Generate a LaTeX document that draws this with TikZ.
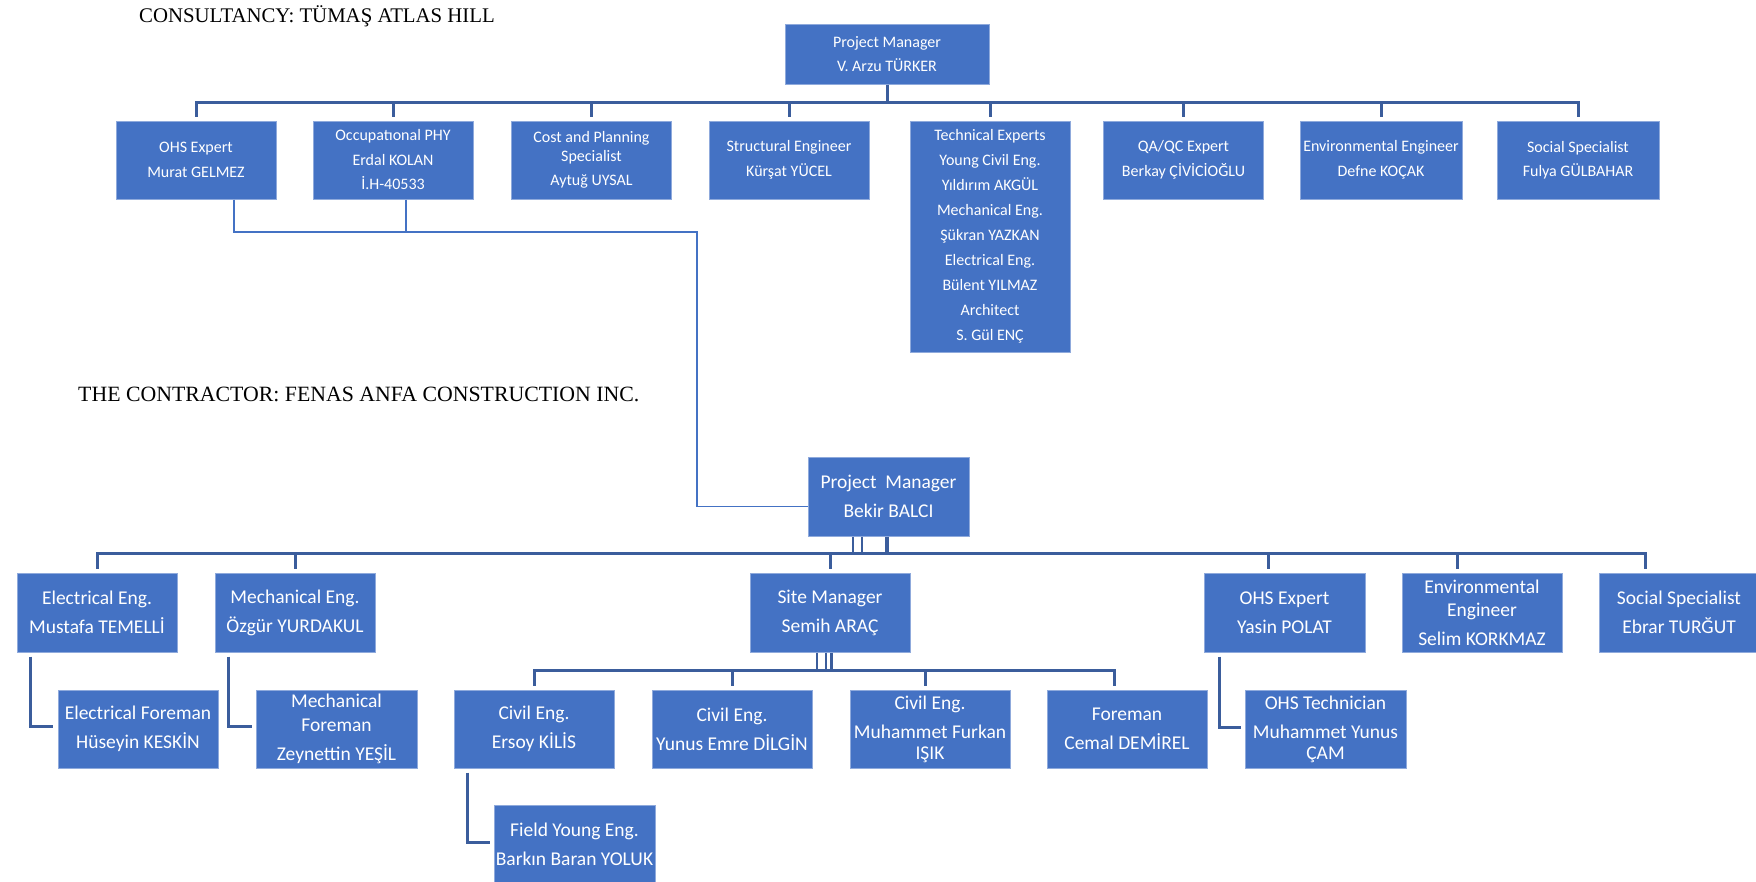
\documentclass[tikz,border=0pt]{standalone}
\usepackage{fontspec}
\setmainfont{Liberation Serif}
\newfontfamily\calfont{Carlito}
\definecolor{boxfill}{HTML}{4472C4}
\definecolor{boxedge}{HTML}{8FAADC}
\definecolor{buscol}{HTML}{3B5D9C}
\definecolor{thincol}{HTML}{4472C4}
\tikzset{
 box/.style={draw=boxedge, fill=boxfill, text=white, inner sep=0pt, align=center, line width=1pt},
 rowone/.style={box, minimum width=160pt, minimum height=78pt, font=\calfont\fontsize{16}{24.5}\selectfont},
 rowtwo/.style={box, minimum width=161pt, minimum height=79pt, font=\calfont\fontsize{19.5}{29}\selectfont},
 bus/.style={draw=buscol, line width=3pt},
 thinbus/.style={draw=buscol, line width=2pt},
 fatbus/.style={draw=buscol, line width=4pt},
 thinline/.style={draw=thincol, line width=1.6pt},
 title/.style={anchor=west, inner sep=0pt, text=black},
}
\begin{document}
\begin{tikzpicture}[x=1pt,y=-1pt]
\fill[white] (0,0) rectangle (1756,881);
\useasboundingbox (0,0) rectangle (1756,881);

% titles
\node[title, font=\fontsize{20.8}{24}\selectfont] (t1) at (139,16) {CONSULTANCY: TÜMAŞ ATLAS HILL};
\node[title, font=\fontsize{21.8}{24}\selectfont] (t2) at (78,394) {THE CONTRACTOR: FENAS ANFA CONSTRUCTION INC.};

% consultancy
\node[rowone, minimum width=204pt, minimum height=60pt] (pmA) at (887,54) {Project Manager\\V. Arzu TÜRKER};
\node[rowone] (c1) at (196,160) {OHS Expert\\Murat GELMEZ};
\node[rowone] (c2) at (393,160) {Occupatıonal PHY\\Erdal KOLAN\\İ.H-40533};
\node[rowone] (c3) at (591.5,160) {Cost and Planning\\[-5.5pt]Specialist\\Aytuğ UYSAL};
\node[rowone] (c4) at (789,160) {Structural Engineer\\Kürşat YÜCEL};
\node[rowone, minimum height=231pt, font=\calfont\fontsize{16}{25}\selectfont] (c5) at (990,236.5) {Technical Experts\\Young Civil Eng.\\Yıldırım AKGÜL\\Mechanical Eng.\\Şükran YAZKAN\\Electrical Eng.\\Bülent YILMAZ\\Architect\\S. Gül ENÇ};
\node[rowone] (c6) at (1183.5,160) {QA/QC Expert\\Berkay ÇİVİCİOĞLU};
\node[rowone, minimum width=162pt] (c7) at (1381,160) {Environmental Engineer\\Defne KOÇAK};
\node[rowone, minimum width=162pt] (c8) at (1578,160) {Social Specialist\\Fulya GÜLBAHAR};

\coordinate (busA) at (0,102);
\draw[bus] (pmA.south) -- (pmA.south |- busA);
\draw[bus] ([yshift=4pt]c1.north) -- (c1.north |- busA) -- (c8.north |- busA) -- ([yshift=4pt]c8.north);
\foreach \n in {c2,c3,c4,c5,c6,c7}{
  \draw[bus] (\n.north |- busA) -- ([yshift=4pt]\n.north);
}

% contractor
\node[rowtwo] (pmB) at (888.5,496.5) {Project\ \ Manager\\Bekir BALCI};
\node[rowtwo, minimum width=160pt] (ee) at (97,612.5) {Electrical Eng.\\Mustafa TEMELLİ};
\node[rowtwo, minimum width=160pt] (me) at (295,612.5) {Mechanical Eng.\\Özgür YURDAKUL};
\node[rowtwo, minimum width=160pt] (sm) at (830,612.5) {Site Manager\\Semih ARAÇ};
\node[rowtwo] (ohs) at (1284.5,612.5) {OHS Expert\\Yasin POLAT};
\node[rowtwo, minimum width=160pt] (env) at (1482,612.5) {Environmental\\[-6pt]Engineer\\Selim KORKMAZ};
\node[rowtwo, minimum width=160pt] (soc) at (1679,612.5) {Social Specialist\\Ebrar TURĞUT};

\node[rowtwo, minimum width=160pt, minimum height=78pt] (ef) at (138,729) {Electrical Foreman\\Hüseyin KESKİN};
\node[rowtwo, minimum width=161pt, minimum height=78pt] (mf) at (336.5,729) {Mechanical\\[-5pt]Foreman\\Zeynettin YEŞİL};
\node[rowtwo, minimum width=160pt, minimum height=78pt] (ce1) at (534,729) {Civil Eng.\\Ersoy KİLİS};
\node[rowtwo, minimum width=160pt, minimum height=78pt] (ce2) at (732,729) {Civil Eng.\\Yunus Emre DİLGİN};
\node[rowtwo, minimum width=160pt, minimum height=78pt] (ce3) at (930,729) {Civil Eng.\\Muhammet Furkan\\[-8pt]IŞIK};
\node[rowtwo, minimum width=160pt, minimum height=78pt] (fm) at (1127,729) {Foreman\\Cemal DEMİREL};
\node[rowtwo, minimum width=161pt, minimum height=78pt] (ot) at (1325.5,729) {OHS Technician\\Muhammet Yunus\\[-8pt]ÇAM};
\node[rowtwo, minimum width=161pt, minimum height=79pt] (fy) at (574.5,844.5) {Field Young Eng.\\Barkın Baran YOLUK};

% cross connector consultancy -> contractor PM
\coordinate (lowA) at (0,232);
\coordinate (jog) at (697,0);
\coordinate (pmBin) at ([yshift=-10pt]pmB.west);
\draw[thinline] ([xshift=38pt]c1.south) -- ([xshift=38pt]c1.south |- lowA) -- (jog |- lowA) -- (jog |- pmBin) -- (pmBin);
\draw[thinline] ([xshift=13pt]c2.south) -- ([xshift=13pt]c2.south |- lowA);

% contractor bus
\coordinate (busB) at (0,553);
\draw[thinbus] ([xshift=-35.5pt]pmB.south) -- ([xshift=-35.5pt]pmB.south |- busB);
\draw[thinbus] ([xshift=-26.5pt]pmB.south) -- ([xshift=-26.5pt]pmB.south |- busB);
\draw[fatbus] ([xshift=-1.5pt]pmB.south) -- ([xshift=-1.5pt]pmB.south |- busB);
\draw[bus] ([yshift=4pt]ee.north) -- (ee.north |- busB) -- ([xshift=-34pt]soc.north |- busB) -- ([xshift=-34pt,yshift=4pt]soc.north);
\draw[bus] (me.north |- busB) -- ([yshift=4pt]me.north);
\draw[bus] (sm.north |- busB) -- ([yshift=4pt]sm.north);
\draw[bus] ([xshift=-16.5pt]ohs.north |- busB) -- ([xshift=-16.5pt,yshift=4pt]ohs.north);
\draw[bus] ([xshift=-25pt]env.north |- busB) -- ([xshift=-25pt,yshift=4pt]env.north);

% site manager sub bus
\coordinate (busC) at (0,670);
\draw[thinbus] ([xshift=-13pt]sm.south) -- ([xshift=-13pt]sm.south |- busC);
\draw[thinbus] ([xshift=-4pt]sm.south) -- ([xshift=-4pt]sm.south |- busC);
\draw[bus] ([xshift=1pt]sm.south) -- ([xshift=1pt]sm.south |- busC);
\draw[bus] ([yshift=4pt]ce1.north) -- (ce1.north |- busC) -- ([xshift=-13pt]fm.north |- busC) -- ([xshift=-13pt,yshift=4pt]fm.north);
\draw[bus] (ce2.north |- busC) -- ([yshift=4pt]ce2.north);
\draw[bus] ([xshift=-5pt]ce3.north |- busC) -- ([xshift=-5pt,yshift=4pt]ce3.north);

% elbows
\draw[bus] ([xshift=14pt,yshift=-4pt]ee.south west) |- ([xshift=-5pt,yshift=3pt]ef.west);
\draw[bus] ([xshift=14pt,yshift=-4pt]me.south west) |- ([xshift=-4pt,yshift=3pt]mf.west);
\draw[bus] ([xshift=16pt,yshift=-4pt]ohs.south west) |- ([xshift=-4pt,yshift=2pt]ot.west);
\draw[bus] ([xshift=14pt,yshift=-4pt]ce1.south west) |- ([xshift=-4pt,yshift=2pt]fy.west);
\end{tikzpicture}
\end{document}
